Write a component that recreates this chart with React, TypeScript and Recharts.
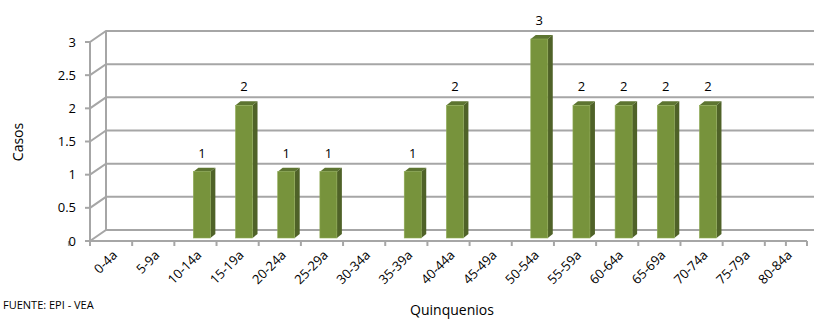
import { BarChart, Bar, XAxis, YAxis, CartesianGrid, LabelList, Customized } from "recharts"

const categories = ["0-4a", "5-9a", "10-14a", "15-19a", "20-24a", "25-29a", "30-34a", "35-39a", "40-44a", "45-49a", "50-54a", "55-59a", "60-64a", "65-69a", "70-74a", "75-79a", "80-84a"]
const casos = [null, null, 1, 2, 1, 1, null, 1, 2, null, 3, 2, 2, 2, 2, null, null]
const yTicks = [0, 0.5, 1, 1.5, 2, 2.5, 3]

const data = categories.map((name, i) => ({ name, casos: casos[i] }))

const FONT = "'Open Sans', sans-serif"
const GRID = "#a6a6a6"
// depth of the 3d wall
const DX = 16
const DY = 11

const hLine = (p: any) => (
  <g key={p.key}>
    <polyline
      points={`${p.x1},${p.y1} ${p.x1 + DX},${p.y1 - DY} ${p.x2 + DX},${p.y1 - DY}`}
      fill="none"
      stroke={GRID}
      strokeWidth={2}
    />
    {p.index === 0 && (
      <line x1={p.x + DX} y1={p.y - DY} x2={p.x + DX} y2={p.y + p.height - DY} stroke={GRID} strokeWidth={2} />
    )}
  </g>
)

const vTick = (p: any) => {
  const bw = p.width / categories.length
  const bottom = p.y + p.height
  return (
    <g key={p.key}>
      <line x1={p.x1 - bw / 2} y1={bottom} x2={p.x1 - bw / 2} y2={bottom + 5} stroke={GRID} strokeWidth={2} />
      {p.index === categories.length - 1 && (
        <line x1={p.x1 + bw / 2} y1={bottom} x2={p.x1 + bw / 2} y2={bottom + 5} stroke={GRID} strokeWidth={2} />
      )}
    </g>
  )
}

const Bar3D = (p: any) => {
  const { x, y, width, height } = p
  if (!height || height <= 0) return <g />
  const fx = x + 6
  const fy = y - 3
  const d = 5
  const t = 4
  return (
    <g>
      <polygon points={`${fx},${fy} ${fx + d},${fy - t} ${fx + width + d},${fy - t} ${fx + width},${fy}`} fill="#5d7531" />
      <polygon points={`${fx + width},${fy} ${fx + width + d},${fy - t} ${fx + width + d},${fy + height - t} ${fx + width},${fy + height}`} fill="#4f6228" />
      <rect x={fx} y={fy} width={width} height={height} fill="#77933c" stroke="#8fab55" strokeWidth={0.6} />
    </g>
  )
}

const BarLabel = (p: any) => {
  if (p.value == null) return null
  return (
    <text x={p.x + p.width / 2 + 6} y={p.y - 17} textAnchor="middle" fontSize={13} fontFamily={FONT} fill="#000">
      {p.value}
    </text>
  )
}

const XTick = (p: any) => {
  const { x, y, payload } = p
  const ax = x + 7
  const ay = y + 7
  return (
    <text
      x={ax}
      y={ay}
      transform={`rotate(-45, ${ax}, ${ay})`}
      textAnchor="end"
      fontSize={13}
      fontFamily={FONT}
      fill="#000"
    >
      {payload.value}
    </text>
  )
}

const Titles = () => (
  <g fontFamily={FONT} fill="#000">
    <text x={17} y={142} transform="rotate(-90, 17, 142)" textAnchor="middle" dominantBaseline="central" fontSize={14}>
      Casos
    </text>
    <text x={452} y={315} textAnchor="middle" fontSize={14}>
      Quinquenios
    </text>
    <text x={3} y={309} fontSize={11}>
      FUENTE: EPI - VEA
    </text>
  </g>
)

export default function App() {
  return (
    <div style={{ position: "absolute", left: 0, top: 0, width: 814, height: 320, background: "#fff" }}>
      <BarChart width={814} height={320} data={data} margin={{ top: 42, right: 7, left: 0, bottom: 0 }} barSize={17}>
        <CartesianGrid horizontal={hLine} vertical={vTick} />
        <XAxis
          dataKey="name"
          height={79}
          interval={0}
          tickLine={false}
          axisLine={{ stroke: GRID, strokeWidth: 2 }}
          tick={<XTick />}
        />
        <YAxis
          width={90}
          domain={[0, 3]}
          ticks={yTicks}
          interval={0}
          tickSize={5}
          tickLine={{ stroke: GRID, strokeWidth: 2 }}
          axisLine={{ stroke: GRID, strokeWidth: 2 }}
          tick={{ fontSize: 13, fontFamily: FONT, fill: "#000", dx: -7 }}
        />
        <Bar dataKey="casos" shape={<Bar3D />} isAnimationActive={false}>
          <LabelList dataKey="casos" content={<BarLabel />} />
        </Bar>
        <Customized component={<Titles />} />
      </BarChart>
    </div>
  )
}
